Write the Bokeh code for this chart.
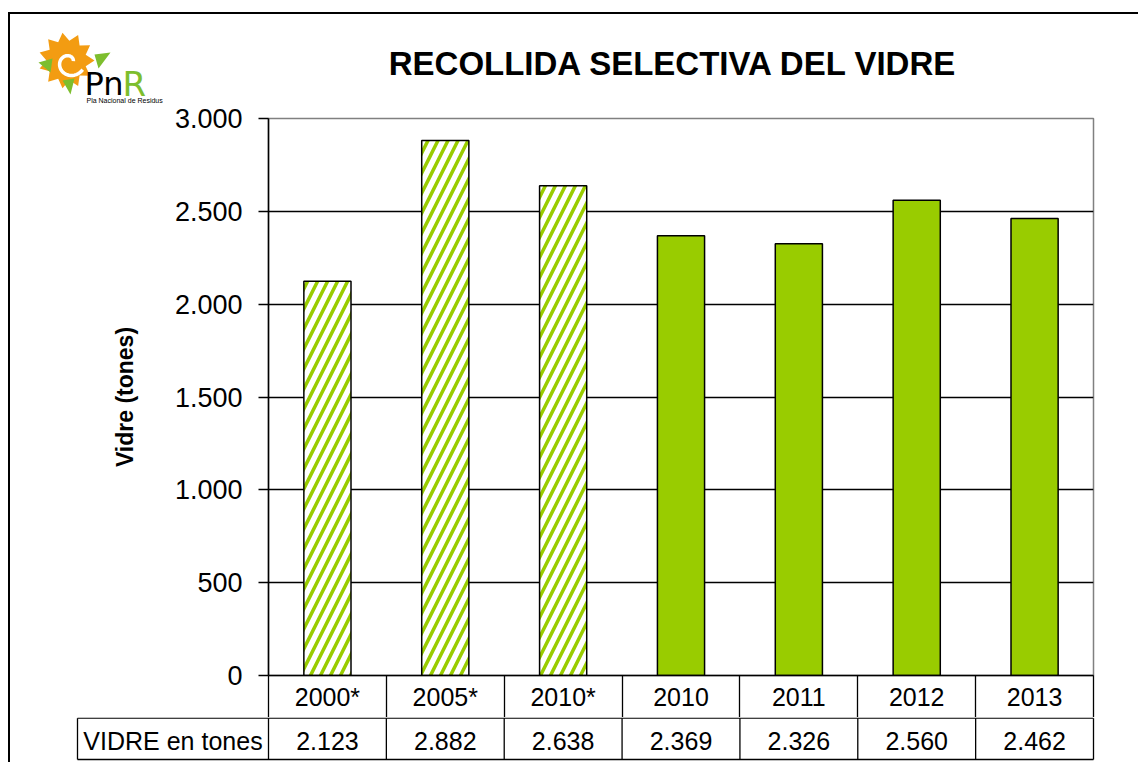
import math
from bokeh.plotting import figure
from bokeh.layouts import column
from bokeh.models import FixedTicker, LinearAxis, Range1d
from bokeh.core.properties import value
from bokeh.embed import file_html
from bokeh.resources import INLINE

# ---------------- data ----------------
categories = ["2000*", "2005*", "2010*", "2010", "2011", "2012", "2013"]
values = [2123, 2882, 2638, 2369, 2326, 2560, 2462]
hatched = [True, True, True, False, False, False, False]
y_ticks = [0, 500, 1000, 1500, 2000, 2500, 3000]
title_text = "RECOLLIDA SELECTIVA DEL VIDRE"
y_label = "Vidre (tones)"
row_label = "VIDRE en tones"

GREEN = "#99CC00"
LEAF = "#7DBE2E"
SUN = "#F39C12"
FONT = "Liberation Sans"


def fmt(v):
    return f"{v:,}".replace(",", ".")


def base(y, size):
    # text glyph baseline correction observed for the svg backend
    return y - 0.4 * size


# ---------------- layout (window pixels) ----------------
OX, OY = 10, 14            # content origin inside the outer border
W = 1128
FL, FR, FT, FB = 268, 1093, 118, 675
HEAD_B = 104               # header figure bottom
ROW1_B, ROW2_B, LEFT = 717, 759, 77
MAIN_B = ROW1_B            # main figure bottom
TBL_B = 762                # table figure bottom
ncat = len(categories)
col = (FR - FL) / ncat
YMAX = y_ticks[-1]
ROW_H = ROW1_B - FB

# ---------------- header (logo + title) ----------------
hh = HEAD_B - OY
head = figure(width=W, height=hh, x_range=Range1d(OX, OX + W),
              y_range=Range1d(HEAD_B, OY), x_axis_type=None, y_axis_type=None,
              output_backend="svg", toolbar_location=None, min_border=0)
head.frame_align = False
head.grid.visible = False
head.outline_line_color = None
head.background_fill_color = "white"
head.border_fill_color = "white"

LOGO_DY = -4   # logo nudged up a little to fit the header

head.text(x=[673], y=[base(76, 33)], text=[title_text], text_align="center",
          text_baseline="alphabetic", text_font=value(FONT),
          text_font_size="33px", text_font_style="bold", text_color="black")

cx, cy = 66, 64 + LOGO_DY
n = 11
sx, sy = [], []
for i in range(2 * n):
    a = math.pi * i / n
    r = 28 if i % 2 == 0 else 20
    sx.append(cx + r * math.cos(a))
    sy.append(cy + r * math.sin(a))
head.patch(sx, sy, fill_color=SUN, line_color=None)
swx, swy = [], []
for i in range(40):
    a = 0.5 + i * 0.14
    r = 15 - i * 0.28
    swx.append(cx + 3 + r * math.cos(a))
    swy.append(cy + 2 + r * math.sin(a))
head.line(swx, swy, line_color="white", line_width=3.5)
leaves = ([(38, 66), (52, 62), (50, 76)],
          [(110, 56), (94, 58), (98, 72)],
          [(62, 84), (74, 82), (70, 98)])
head.patches([[a for a, b in pts] for pts in leaves],
             [[b + LOGO_DY for a, b in pts] for pts in leaves],
             fill_color=LEAF, line_color=None)
head.text(x=[84], y=[base(96, 32)], text=["Pn"],
          text_font=value("DejaVu Sans"), text_font_size="32px",
          text_color="black", text_baseline="alphabetic")
head.text(x=[122], y=[base(97, 34)], text=["R"],
          text_font=value("DejaVu Sans"), text_font_size="34px",
          text_color=LEAF, text_baseline="alphabetic")
head.text(x=[86], y=[base(102.5, 7)], text=["Pla Nacional de Residus"],
          text_font=value(FONT), text_font_size="7px", text_color="black",
          text_baseline="alphabetic")

# ---------------- main chart ----------------
p = figure(width=W, height=MAIN_B - HEAD_B, x_range=categories,
           y_range=(0, YMAX), output_backend="svg", toolbar_location=None,
           min_border_left=FL - OX, min_border_right=W - (FR - OX),
           min_border_top=FT - HEAD_B, min_border_bottom=MAIN_B - FB)
p.frame_align = False
p.background_fill_color = "white"
p.border_fill_color = "white"
p.outline_line_color = "#808080"
p.outline_line_width = 1.5

h_cats = [c for c, h in zip(categories, hatched) if h]
h_vals = [v for v, h in zip(values, hatched) if h]
s_cats = [c for c, h in zip(categories, hatched) if not h]
s_vals = [v for v, h in zip(values, hatched) if not h]

p.vbar(x=h_cats, top=h_vals, width=0.4, fill_color="white",
       hatch_pattern="/", hatch_color=GREEN, hatch_scale=20, hatch_weight=3.5,
       line_color="black", line_width=1.5)
p.vbar(x=s_cats, top=s_vals, width=0.4, fill_color=GREEN,
       line_color="black", line_width=1.5)

p.xgrid.visible = False
p.ygrid.ticker = FixedTicker(ticks=y_ticks[1:-1])
p.ygrid.grid_line_color = "black"
p.ygrid.grid_line_width = 1.3

yax = p.yaxis[0]
yax.ticker = FixedTicker(ticks=y_ticks)
yax.major_label_overrides = {t: fmt(t) for t in y_ticks}
yax.major_label_text_font = FONT
yax.major_label_text_font_size = "27px"
yax.major_label_text_color = "black"
yax.major_label_standoff = 16
yax.major_tick_in = 0
yax.major_tick_out = 10
yax.minor_tick_line_color = None
yax.axis_line_color = "black"
yax.axis_line_width = 1.5
yax.major_tick_line_width = 1.5
yax.axis_label = y_label
yax.axis_label_text_font = FONT
yax.axis_label_text_font_size = "23px"
yax.axis_label_text_font_style = "bold"
yax.axis_label_text_color = "black"
yax.axis_label_standoff = 34

# x axis on the category range: labels at the category centres (first table
# row), minor ticks at the category boundaries (table column separators)
centers = [i + 0.5 for i in range(ncat)]
xaxis = LinearAxis(ticker=FixedTicker(ticks=centers,
                                      minor_ticks=list(range(ncat + 1))),
                   major_label_overrides=dict(zip(centers, categories)),
                   major_label_text_font=FONT,
                   major_label_text_font_size="25px",
                   major_label_text_color="black",
                   major_label_standoff=-(ROW_H - 7),
                   major_tick_out=0, major_tick_in=0,
                   major_tick_line_color=None,
                   minor_tick_out=ROW_H, minor_tick_in=0,
                   minor_tick_line_color="black", minor_tick_line_width=1.3,
                   axis_line_color="black", axis_line_width=1.5)
p.below = [xaxis]

# ---------------- data table: value row ----------------
def tx(px):
    return (px - FL) / col


tbl = figure(width=W, height=TBL_B - MAIN_B, x_range=Range1d(tx(OX), tx(OX + W)),
             y_range=Range1d(TBL_B, MAIN_B), x_axis_type=None, y_axis_type=None,
             output_backend="svg", toolbar_location=None, min_border=0)
tbl.frame_align = False
tbl.grid.visible = False
tbl.outline_line_color = None
tbl.background_fill_color = "white"
tbl.border_fill_color = "white"

top_y = ROW1_B + 0.7
seg_x0 = [tx(LEFT), tx(LEFT), tx(LEFT)] + list(range(ncat + 1))
seg_x1 = [ncat, ncat, tx(LEFT)] + list(range(ncat + 1))
seg_y0 = [top_y, ROW2_B, top_y] + [top_y] * (ncat + 1)
seg_y1 = [top_y, ROW2_B, ROW2_B] + [ROW2_B] * (ncat + 1)
tbl.segment(seg_x0, seg_y0, seg_x1, seg_y1, line_color="black", line_width=1.3)

tbl.text(x=centers, y=[base(750, 25)] * ncat, text=[fmt(v) for v in values],
         text_align="center", text_baseline="alphabetic", text_font=value(FONT),
         text_font_size="25px", text_color="black")
tbl.text(x=[tx((LEFT + FL) / 2)], y=[base(750, 25)], text=[row_label],
         text_align="center", text_baseline="alphabetic", text_font=value(FONT),
         text_font_size="25px", text_color="black")

layout = column(head, p, tbl, spacing=0, margin=(12, 0, 0, 8),
                styles={"border-left": "2px solid black",
                        "border-top": "2px solid black"})

open("out.html", "w").write(file_html(layout, INLINE))
